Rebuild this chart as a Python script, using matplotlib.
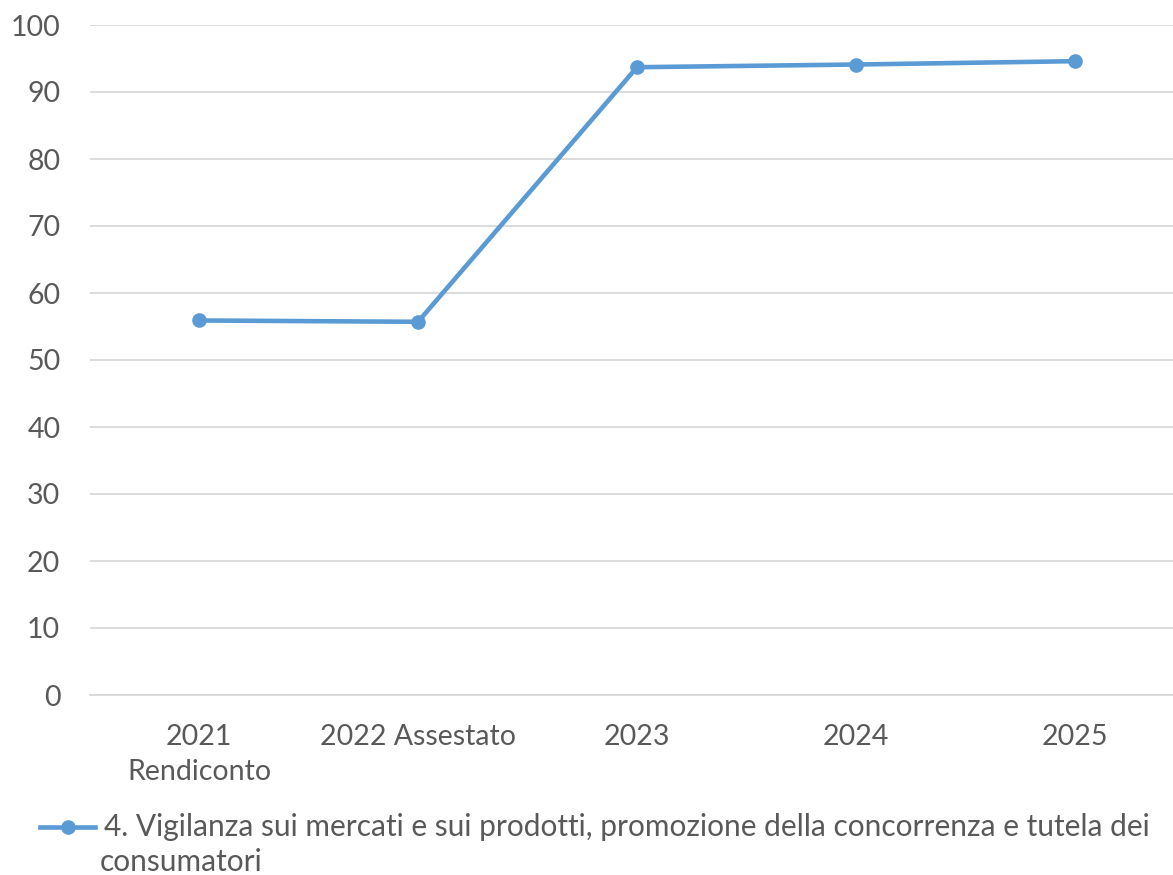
import matplotlib.pyplot as plt
from matplotlib.lines import Line2D

plt.rcParams['font.family'] = ['Lato', 'DejaVu Sans']

categories = ["2021\nRendiconto", "2022 Assestato", "2023", "2024", "2025"]
values = [55.9, 55.7, 93.7, 94.1, 94.6]
series_name = "4. Vigilanza sui mercati e sui prodotti, promozione della concorrenza e tutela dei consumatori"
yticks = list(range(0, 101, 10))

line_color = "#5B9BD5"
text_color = "#595959"
grid_color = "#D9D9D9"
fs = 20.5

fig = plt.figure(figsize=(11.73, 8.75), dpi=100)
ax = fig.add_axes([89.5 / 1173, 180 / 875, 1095 / 1173, 670 / 875])

x = range(len(categories))
ax.plot(x, values, color=line_color, lw=3.3, marker="o", ms=9.5,
        label=series_name, zorder=3, clip_on=False)

ax.set_xlim(-0.5, len(categories) - 0.5)
ax.set_ylim(0, 100)
ax.set_yticks(yticks)
ax.set_xticks(list(x))
ax.set_xticklabels(categories, linespacing=1.4)

for s in ["top", "right", "left"]:
    ax.spines[s].set_visible(False)
ax.spines["bottom"].set_color(grid_color)
ax.spines["bottom"].set_linewidth(1.3)
ax.grid(axis="y", color=grid_color, lw=1.3)
ax.set_axisbelow(True)
ax.tick_params(length=0, labelsize=fs, colors=text_color)
ax.tick_params(axis="y", pad=21)
ax.tick_params(axis="x", pad=21)

# legend drawn by hand so the handle sits on the first text line
words = series_name.split(" ")
first = " ".join(words[:-1])
last = words[-1]
ly = 1 - 827 / 875
fig.add_artist(Line2D([40 / 1173, 95 / 1173], [ly, ly],
                      transform=fig.transFigure, color=line_color, lw=3.3))
fig.add_artist(Line2D([67.5 / 1173], [ly], transform=fig.transFigure,
                      color=line_color, marker="o", ms=9.5))
fig.text(104 / 1173, ly, first, fontsize=21.5, color=text_color,
         va="center", ha="left")
fig.text(100 / 1173, 1 - 862 / 875, last, fontsize=21.5, color=text_color,
         va="center", ha="left")

fig.savefig("out.png", dpi=100)
